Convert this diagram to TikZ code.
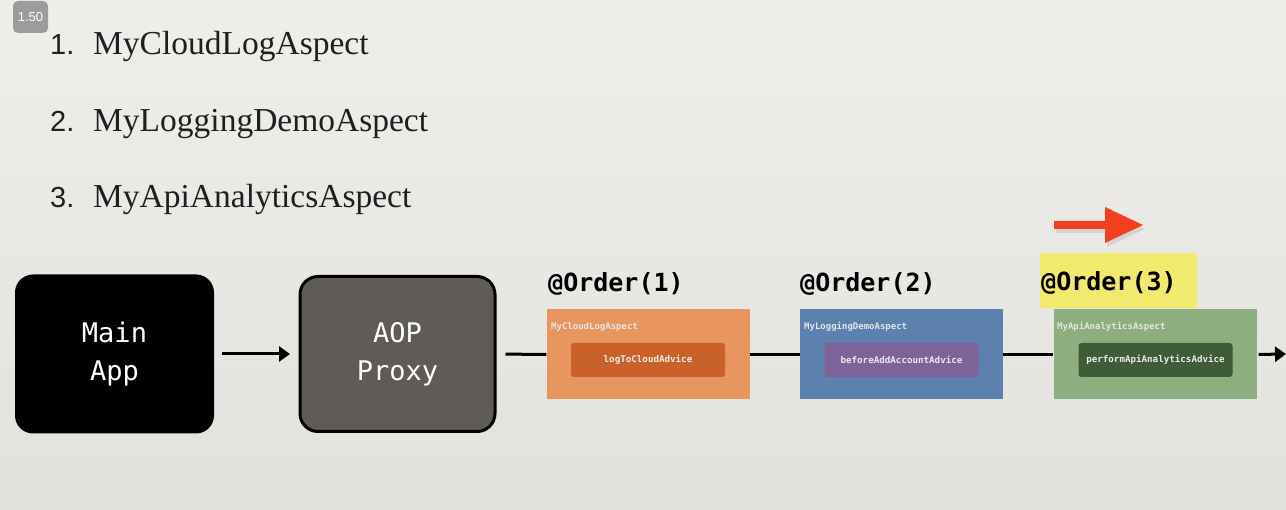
\documentclass[tikz,border=0pt]{standalone}
\usepackage{fontspec}
\newfontfamily\monofnt{DejaVu Sans Mono}
\newfontfamily\numfnt{Liberation Sans}
\newfontfamily\serifnt{Liberation Serif}
\usetikzlibrary{arrows.meta,shadows}
\definecolor{bgtop}{HTML}{F0EEEB}
\definecolor{bgbot}{HTML}{E3E1DE}
\definecolor{orout}{HTML}{E8955F}
\definecolor{orin}{HTML}{C9622A}
\definecolor{blout}{HTML}{5C81AE}
\definecolor{blin}{HTML}{7E6399}
\definecolor{grout}{HTML}{8DAF7F}
\definecolor{grin}{HTML}{3F5B37}
\definecolor{proxy}{HTML}{5F5B58}
\definecolor{ylw}{HTML}{F2EA6E}
\definecolor{redarr}{HTML}{F2401E}
\definecolor{badge}{HTML}{9E9C9A}
\tikzset{
  listnum/.style={anchor=base west, inner sep=0pt, font=\numfnt\fontsize{29}{32}\selectfont, text=black!88},
  listname/.style={anchor=base west, inner sep=0pt, font=\serifnt\fontsize{33.5}{36}\selectfont, text=black!88},
  bigbox/.style={rounded corners=18pt, minimum width=199pt, minimum height=159pt, align=center,
     text=white, font=\monofnt\fontsize{27}{38}\selectfont, inner sep=0pt},
  aspectbox/.style={minimum width=203pt, minimum height=90pt, inner sep=0pt},
  advicebox/.style={minimum width=154pt, minimum height=34pt, inner sep=0pt, rounded corners=3pt,
     text=white!92!black, font=\monofnt\bfseries\fontsize{9.2}{10}\selectfont},
  aspectlabel/.style={anchor=west, inner sep=0pt, text=white!90!black, font=\monofnt\bfseries\fontsize{9}{10}\selectfont},
  orderlabel/.style={anchor=west, inner sep=0pt, font=\monofnt\bfseries\fontsize{25}{28}\selectfont},
  link/.style={line width=3pt, black},
  linkarrow/.style={link, -{Triangle[length=11pt,width=15pt]}},
}
\begin{document}
\begin{tikzpicture}[x=1pt,y=-1pt]
\shade[top color=bgtop, bottom color=bgbot] (0,0) rectangle (1286,510);
\useasboundingbox (0,0) rectangle (1286,510);

% speed badge
\node[fill=badge, rounded corners=5pt, minimum width=35pt, minimum height=32pt, inner sep=0pt,
      text=white, font=\numfnt\fontsize{13}{14}\selectfont] (badge) at (30.5,17) {1.50};

% list
\node[listnum] (n1) at (50,55) {1.};
\node[listname] (l1) at (93,55) {MyCloudLogAspect};
\node[listnum] (n2) at (50,132) {2.};
\node[listname] (l2) at (93,132) {MyLoggingDemoAspect};
\node[listnum] (n3) at (50,208) {3.};
\node[listname] (l3) at (93,208) {MyApiAnalyticsAspect};

% main boxes
\node[bigbox, fill=black] (main) at (114.5,354) {Main\\App};
\node[bigbox, fill=proxy, draw=black, line width=3pt, minimum width=195pt, minimum height=155pt] (proxy) at (397.5,354) {AOP\\Proxy};

% aspects
\node[aspectbox, fill=orout] (asp1) at (648,354.5) {};
\node[aspectbox, fill=blout] (asp2) at (901.5,354.5) {};
\node[aspectbox, fill=grout] (asp3) at (1155,354.5) {};

\node[aspectlabel] (al1) at (551,327) {MyCloudLogAspect};
\node[aspectlabel] (al2) at (804,327) {MyLoggingDemoAspect};
\node[aspectlabel] (al3) at (1057,327) {MyApiAnalyticsAspect};

\node[advicebox, fill=orin] (adv1) at (648,360) {logToCloudAdvice};
\node[advicebox, fill=blin] (adv2) at (901.5,360) {beforeAddAccountAdvice};
\node[advicebox, fill=grin] (adv3) at (1155.5,360) {performApiAnalyticsAdvice};

% order labels
\node[fill=ylw, minimum width=157pt, minimum height=55pt, inner sep=0pt] (ybg) at (1118.5,280.5) {};
\node[orderlabel] (o1) at (548,284) {@Order(1)};
\node[orderlabel] (o2) at (800,284) {@Order(2)};
\node[orderlabel] (o3) at (1041,283) {@Order(3)};

% connectors
\coordinate (endpt) at (1286,354);
\coordinate (proxyin) at (298,354);
\draw[linkarrow, shorten <=8pt, shorten >=8pt] (main.east) -- (proxyin);
\draw[link, shorten <=9pt] (proxy.east) -- (asp1.west);
\draw[link] (asp1.east) -- (asp2.west);
\draw[link] (asp2.east) -- (asp3.west);
\draw[linkarrow, shorten <=2pt] (asp3.east) -- (endpt);

% red arrow
\fill[redarr, drop shadow={opacity=0.2, shadow xshift=2pt, shadow yshift=-4pt}]
  (1054,221) -- (1105,221) -- (1105,207) -- (1143,225) -- (1105,243) -- (1105,229) -- (1054,229) -- cycle;
\end{tikzpicture}
\end{document}
